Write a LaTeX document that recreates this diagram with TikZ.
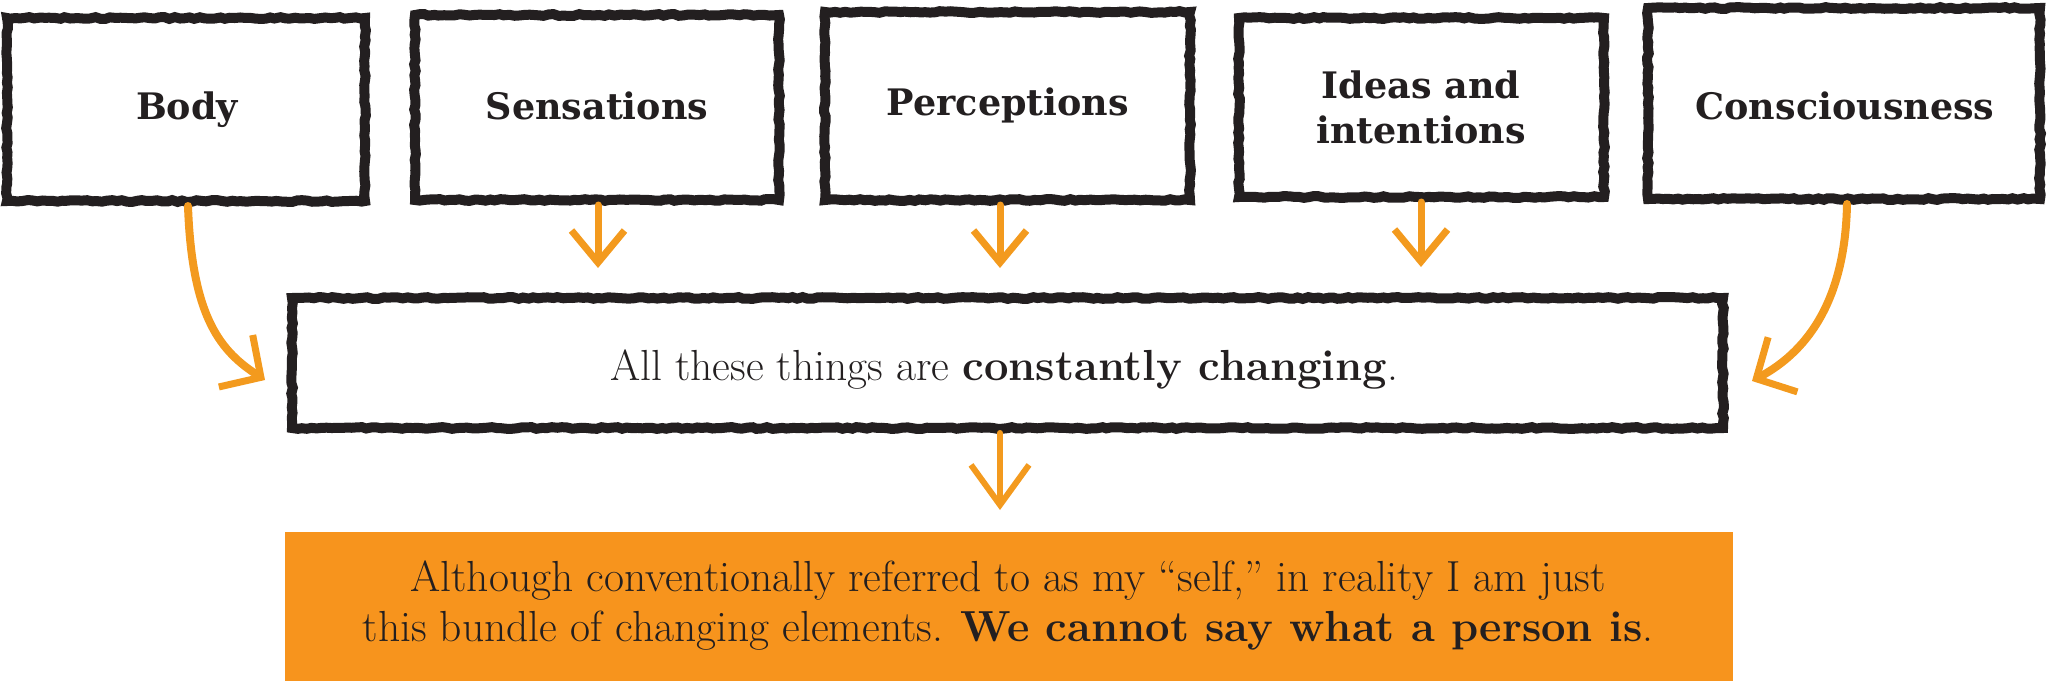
\documentclass[tikz,border=0pt]{standalone}
\usepackage{fontspec}
\usetikzlibrary{arrows.meta,decorations.pathmorphing}
\newfontfamily\slab{DejaVu Serif}
\definecolor{ink}{HTML}{231F20}
\definecolor{orng}{HTML}{F7941D}
\definecolor{arr}{HTML}{F39A1E}
\begin{document}
\begin{tikzpicture}[x=1pt,y=-1pt,
  rough/.style={draw=ink, line width=10pt, inner sep=0pt,
    decorate, decoration={random steps, segment length=5pt, amplitude=0.9pt}},
  toplabel/.style={align=center, inner sep=0pt,
    font=\slab\bfseries\fontsize{36.5}{45}\selectfont, text=ink},
  bodytext/.style={align=center, inner sep=0pt,
    font=\fontsize{43.5}{50}\selectfont, text=ink},
  finalbox/.style={fill=orng, inner sep=0pt},
  curvearrow/.style={draw=arr, line width=8pt, line cap=round,
    -{Straight Barb[length=30pt,width=62pt,line width=7pt]}},
  downarrow/.style={draw=arr, line width=7pt, line cap=round,
    -{Straight Barb[length=32pt,width=53pt,line width=7pt]}}
]
\useasboundingbox (0,0) rectangle (2048,681);
\pgfmathsetseed{7}
\node[rough, minimum width=358pt, minimum height=183pt] (body) at (186,109.5) {};
\node[rough, minimum width=364pt, minimum height=185pt] (sens) at (597,107.5) {};
\node[rough, minimum width=365pt, minimum height=188pt] (perc) at (1007.5,106) {};
\node[rough, minimum width=365pt, minimum height=179pt] (idea) at (1421.5,107.5) {};
\node[rough, minimum width=392pt, minimum height=191pt] (cons) at (1844,103.5) {};
\node[rough, minimum width=1431pt, minimum height=130pt] (mid) at (1007.5,363) {};
\node[finalbox, minimum width=1448pt, minimum height=149pt] (final) at (1009,606.5) {};

\node[toplabel] (bodyl) at (187,110) {Body};
\node[toplabel] (sensl) at (597,106) {Sensations};
\node[toplabel] (percl) at (1008,105) {Perceptions};
\node[toplabel] (ideal) at (1421,107) {Ideas and\\intentions};
\node[toplabel] (consl) at (1845,106) {Consciousness};
\node[bodytext] (midl) at (1004,370) {All these things are \textbf{constantly changing}.};
\node[bodytext] (finall) at (1008,606) {Although conventionally referred to as my “self,” in reality I am just\\this bundle of changing elements. \textbf{We cannot say what a person is}.};

\coordinate (bodytip) at (265,380);
\coordinate (constip) at (1752,381);
\coordinate (senstip) at (598,268);
\coordinate (perctip) at (1000,268);
\coordinate (ideatip) at (1421,267);
\coordinate (midtip) at (1000,510);

\draw[curvearrow] ([xshift=2pt]body.south) .. controls (192,320) and (222,352) .. (bodytip);
\draw[curvearrow] ([xshift=3pt]cons.south) .. controls (1845,315) and (1795,358) .. (constip);
\draw[downarrow] (sens.south -| senstip) -- (senstip);
\draw[downarrow] (perc.south -| perctip) -- (perctip);
\draw[downarrow] (idea.south -| ideatip) -- (ideatip);
\draw[downarrow, line width=6pt, -{Straight Barb[length=40pt,width=58pt,line width=6pt]}] (mid.south -| midtip) -- (midtip);
\end{tikzpicture}
\end{document}
